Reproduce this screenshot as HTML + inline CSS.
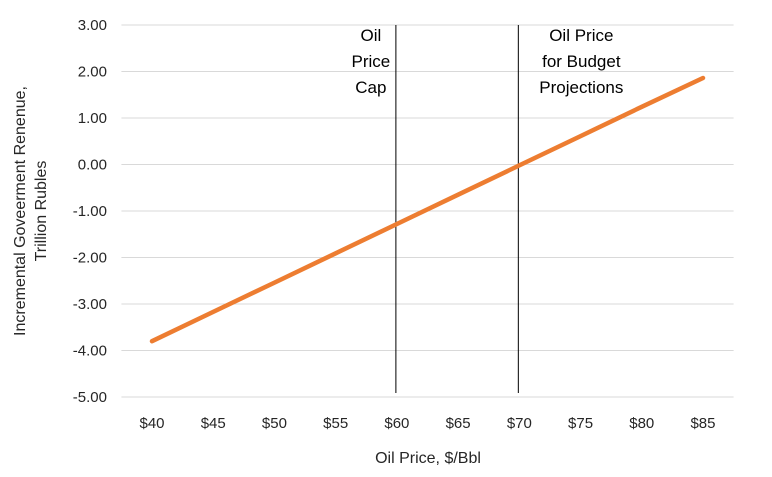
<!DOCTYPE html>
<html><head><meta charset="utf-8"><style>
body{margin:0;background:#fff;}
svg{display:block;font-family:"Liberation Sans",Arial,sans-serif;}
</style></head><body>
<svg id="chart" width="772" height="477">
<g id="grid"></g>
<g id="yticks"></g>
<g id="xticks"></g>
<g id="vlines"></g>
<g id="series"></g>
<text x="428" y="463" font-size="16" text-anchor="middle" fill="#262626">Oil Price, $/Bbl</text>
<text transform="translate(25,211) rotate(-90)" font-size="16" text-anchor="middle" fill="#262626"><tspan x="0" dy="0">Incremental Goveerment  Renenue,</tspan><tspan x="0" dy="21">Trillion Rubles</tspan></text>
</svg>
<script>
const categories=["$40","$45","$50","$55","$60","$65","$70","$75","$80","$85"];
const revenue=[-3.80,-3.17,-2.54,-1.91,-1.28,-0.65,-0.02,0.61,1.24,1.86];
const yTickValues=[3,2,1,0,-1,-2,-3,-4,-5];
const refCategories=["$60","$70"];
const refLabels=[["Oil","Price","Cap"],["Oil Price","for Budget","Projections"]];
const NS="http://www.w3.org/2000/svg";
const plotLeft=121.4,plotRight=733.6,topY=25,bottomY=397,yMin=-5,yMax=3;
const step=(plotRight-plotLeft)/categories.length;
function xPos(i){return plotLeft+step*(i+0.5);}
function yPos(v){return topY+(yMax-v)/(yMax-yMin)*(bottomY-topY);}
function mk(tag,attrs,parent){const e=document.createElementNS(NS,tag);for(const k in attrs)e.setAttribute(k,attrs[k]);parent.appendChild(e);return e;}
const grid=document.getElementById('grid'),yt=document.getElementById('yticks'),xt=document.getElementById('xticks');
yTickValues.forEach(v=>{
 const l=mk('line',{x1:plotLeft,x2:plotRight,y1:yPos(v),y2:yPos(v),stroke:'#d9d9d9','stroke-width':1},grid);
 
 
 const t=mk('text',{x:107,y:yPos(v)+5,'font-size':15,'text-anchor':'end',fill:'#262626'},yt);
 t.textContent=v.toFixed(2);
 
 
});
categories.forEach((c,i)=>{
 const t=mk('text',{x:xPos(i),y:428,'font-size':15,'text-anchor':'middle',fill:'#262626'},xt);
 t.textContent=c;
 
 
});
const vl=document.getElementById('vlines');
refCategories.forEach((c,j)=>{
 const i=categories.indexOf(c);
 const x=xPos(i)-1;
 const l=mk('line',{x1:x,x2:x,y1:25,y2:393,stroke:'#000','stroke-width':1},vl);
 
 
 const cx=j===0?x-25:x+63;
 refLabels[j].forEach((s,k)=>{
  const t=mk('text',{x:cx,y:41+k*26,'font-size':17,'text-anchor':'middle',fill:'#000'},vl);
  t.textContent=s;
  
  
 });
});
const pts=revenue.map((v,i)=>xPos(i).toFixed(1)+','+yPos(v).toFixed(1)).join(' ');
const pl=mk('polyline',{points:pts,fill:'none',stroke:'#ed7d31','stroke-width':4.5,'stroke-linecap':'round'},document.getElementById('series'));


</script>
</body></html>
